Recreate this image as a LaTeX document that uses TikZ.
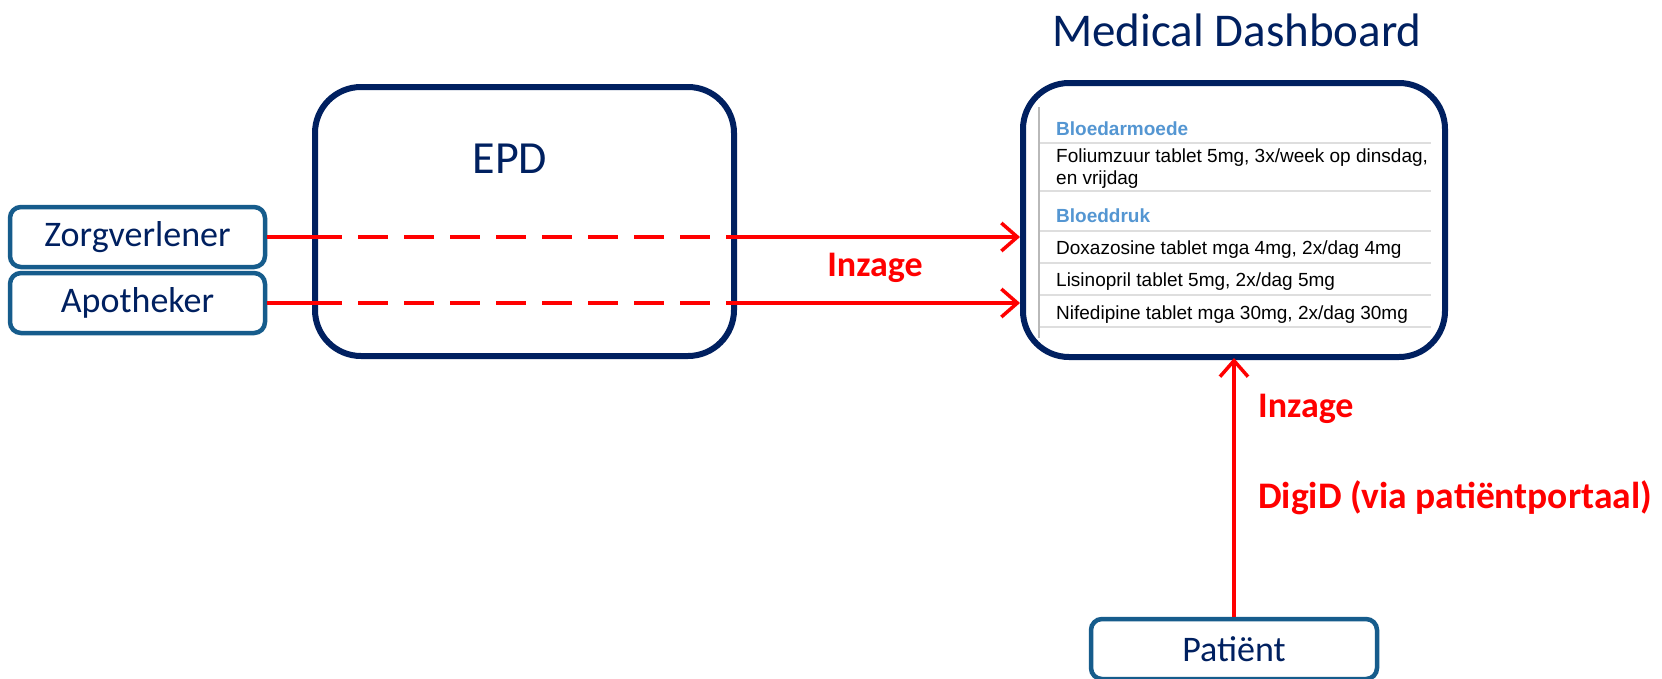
\documentclass[tikz,border=0pt]{standalone}
\usepackage{fontspec}
\setmainfont{Carlito}
\newfontfamily\arialf{Liberation Sans}
\usetikzlibrary{arrows.meta}
\definecolor{navy}{RGB}{0,32,96}
\definecolor{boxblue}{RGB}{22,92,140}
\definecolor{headblue}{RGB}{84,150,210}
\definecolor{rowgray}{RGB}{222,222,222}
\definecolor{vgray}{RGB}{185,185,185}
\begin{document}
\begin{tikzpicture}[x=1pt,y=-1pt,
  bigbox/.style={draw=navy,line width=6pt,rounded corners=46pt,inner sep=0pt},
  smallbox/.style={draw=boxblue,line width=4.5pt,rounded corners=11pt,fill=white,inner sep=0pt,text=navy,font=\fontsize{36}{40}\selectfont},
  title/.style={text=navy,font=\fontsize{47}{52}\selectfont,inner sep=0pt},
  redlbl/.style={text=red,font=\fontsize{36}{40}\selectfont\bfseries,inner sep=0pt},
  redline/.style={draw=red,line width=3.5pt},
  redarrow/.style={redline,-{Straight Barb[length=16pt,width=28pt]}},
  reddash/.style={redline,dash pattern=on 30pt off 16pt},
  rowtxt/.style={anchor=base west,inner sep=0pt,font=\arialf\fontsize{19}{22}\selectfont,text=black},
  rowhead/.style={rowtxt,font=\arialf\bfseries\fontsize{19}{22}\selectfont,text=headblue},
  rowline/.style={draw=rowgray,line width=1.5pt},
]
\useasboundingbox (0,0) rectangle (1662,678);
\fill[white] (0,0) rectangle (1662,678);

% main boxes
\node[bigbox,minimum width=419pt,minimum height=269pt] (epd) at (524.5,221.5) {};
\node[title,font=\fontsize{46}{50}\selectfont] (epdt) at (510,159) {EPD};
\node[bigbox,minimum width=422pt,minimum height=274pt] (dash) at (1234,220) {};
\node[title] (dasht) at (1237,30) {Medical Dashboard};

% dashboard contents
\coordinate (vt) at (1039,107);
\coordinate (vb) at (1039,338);
\draw[draw=vgray,line width=1.5pt] (vt) -- (vb);
\foreach \yy/\nm in {143/l1,191/l2,231/l3,263/l4,295/l5,327/l6}{
  \coordinate (\nm a) at (1040,\yy);
  \coordinate (\nm b) at (1431,\yy);
  \draw[rowline] (\nm a) -- (\nm b);
}
\node[rowhead] (h1) at (1056,135) {Bloedarmoede};
\node[rowtxt] (t1) at (1056,162) {Foliumzuur tablet 5mg, 3x/week op dinsdag,};
\node[rowtxt] (t1b) at (1056,184) {en vrijdag};
\node[rowhead] (h2) at (1056,222) {Bloeddruk};
\node[rowtxt] (t2) at (1056,254) {Doxazosine tablet mga 4mg, 2x/dag 4mg};
\node[rowtxt] (t3) at (1056,286) {Lisinopril tablet 5mg, 2x/dag 5mg};
\node[rowtxt] (t4) at (1056,319) {Nifedipine tablet mga 30mg, 2x/dag 30mg};

% small boxes
\node[smallbox,minimum width=255pt,minimum height=60pt] (zorg) at (137.5,237) {Zorgverlener};
\node[smallbox,minimum width=255pt,minimum height=60pt] (apo) at (137.5,303) {Apotheker};
\node[smallbox,minimum width=286pt,minimum height=60pt] (pat) at (1234,649) {Patiënt};

% connectors
\coordinate (z1) at (epd.west |- zorg.east);
\coordinate (z2) at (epd.east |- zorg.east);
\coordinate (z3) at (dash.west |- zorg.east);
\draw[redline] (zorg.east) -- (z1);
\draw[reddash] (z1) -- (z2);
\draw[redarrow] (z2) -- (z3);
\coordinate (a1) at (epd.west |- apo.east);
\coordinate (a2) at (epd.east |- apo.east);
\coordinate (a3) at (dash.west |- apo.east);
\draw[redline] (apo.east) -- (a1);
\draw[reddash] (a1) -- (a2);
\draw[redarrow] (a2) -- (a3);
\coordinate (pt) at (1234,358);
\draw[redarrow] (pat.north) -- (pt);

% labels
\node[redlbl] (inz1) at (875,268) {Inzage};
\node[redlbl,anchor=west] (inz2) at (1258,409) {Inzage};
\node[redlbl,anchor=west,font=\fontsize{37.5}{42}\selectfont\bfseries] (digid) at (1258,498) {DigiD (via patiëntportaal)};
\end{tikzpicture}
\end{document}
